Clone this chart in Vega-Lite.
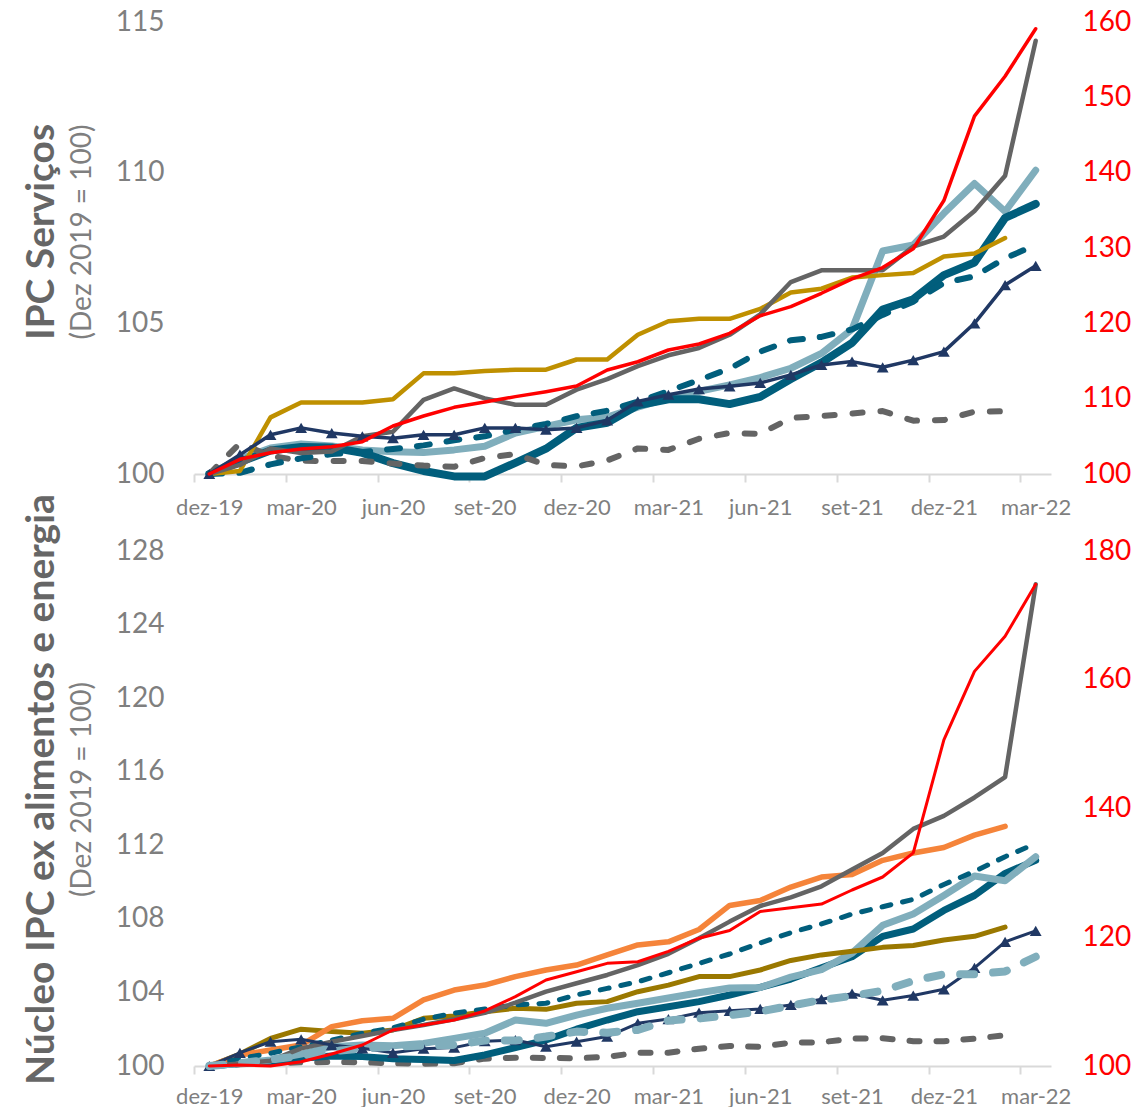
{
"$schema":"https://vega.github.io/schema/vega-lite/v6.json",
"padding":{"left":23,"top":8,"right":0,"bottom":0},
"config":{"view":{"stroke":null},"font":"Lato","line":{"strokeCap":"round","strokeJoin":"round"},"title":{"font":"Lato","subtitleFont":"Lato"}},
"bounds":"flush",
"spacing":77,
"datasets":{
"top":[
{"s":"gold","m":"dez-19","v":100},{"s":"gold","m":"jan-20","v":100.1},{"s":"gold","m":"fev-20","v":101.88},{"s":"gold","m":"mar-20","v":102.37},{"s":"gold","m":"abr-20","v":102.37},{"s":"gold","m":"mai-20","v":102.37},{"s":"gold","m":"jun-20","v":102.48},{"s":"gold","m":"jul-20","v":103.34},{"s":"gold","m":"ago-20","v":103.34},{"s":"gold","m":"set-20","v":103.42},{"s":"gold","m":"out-20","v":103.46},{"s":"gold","m":"nov-20","v":103.46},{"s":"gold","m":"dez-20","v":103.8},{"s":"gold","m":"jan-21","v":103.8},{"s":"gold","m":"fev-21","v":104.62},{"s":"gold","m":"mar-21","v":105.07},{"s":"gold","m":"abr-21","v":105.15},{"s":"gold","m":"mai-21","v":105.15},{"s":"gold","m":"jun-21","v":105.48},{"s":"gold","m":"jul-21","v":106.02},{"s":"gold","m":"ago-21","v":106.15},{"s":"gold","m":"set-21","v":106.52},{"s":"gold","m":"out-21","v":106.6},{"s":"gold","m":"nov-21","v":106.67},{"s":"gold","m":"dez-21","v":107.22},{"s":"gold","m":"jan-22","v":107.32},{"s":"gold","m":"fev-22","v":107.83},
{"s":"gray","m":"dez-19","v":100},{"s":"gray","m":"jan-20","v":100.3},{"s":"gray","m":"fev-20","v":100.85},{"s":"gray","m":"mar-20","v":100.7},{"s":"gray","m":"abr-20","v":100.75},{"s":"gray","m":"mai-20","v":101.25},{"s":"gray","m":"jun-20","v":101.4},{"s":"gray","m":"jul-20","v":102.46},{"s":"gray","m":"ago-20","v":102.84},{"s":"gray","m":"set-20","v":102.51},{"s":"gray","m":"out-20","v":102.3},{"s":"gray","m":"nov-20","v":102.3},{"s":"gray","m":"dez-20","v":102.8},{"s":"gray","m":"jan-21","v":103.15},{"s":"gray","m":"fev-21","v":103.58},{"s":"gray","m":"mar-21","v":103.94},{"s":"gray","m":"abr-21","v":104.18},{"s":"gray","m":"mai-21","v":104.62},{"s":"gray","m":"jun-21","v":105.3},{"s":"gray","m":"jul-21","v":106.37},{"s":"gray","m":"ago-21","v":106.76},{"s":"gray","m":"set-21","v":106.76},{"s":"gray","m":"out-21","v":106.76},{"s":"gray","m":"nov-21","v":107.55},{"s":"gray","m":"dez-21","v":107.88},{"s":"gray","m":"jan-22","v":108.73},{"s":"gray","m":"fev-22","v":109.9},{"s":"gray","m":"mar-22","v":114.38},
{"s":"lblue","m":"dez-19","v":100},{"s":"lblue","m":"jan-20","v":100.5},{"s":"lblue","m":"fev-20","v":100.86},{"s":"lblue","m":"mar-20","v":101.0},{"s":"lblue","m":"abr-20","v":100.93},{"s":"lblue","m":"mai-20","v":100.8},{"s":"lblue","m":"jun-20","v":100.74},{"s":"lblue","m":"jul-20","v":100.71},{"s":"lblue","m":"ago-20","v":100.8},{"s":"lblue","m":"set-20","v":100.92},{"s":"lblue","m":"out-20","v":101.36},{"s":"lblue","m":"nov-20","v":101.58},{"s":"lblue","m":"dez-20","v":101.8},{"s":"lblue","m":"jan-21","v":101.89},{"s":"lblue","m":"fev-21","v":102.22},{"s":"lblue","m":"mar-21","v":102.52},{"s":"lblue","m":"abr-21","v":102.74},{"s":"lblue","m":"mai-21","v":102.96},{"s":"lblue","m":"jun-21","v":103.2},{"s":"lblue","m":"jul-21","v":103.51},{"s":"lblue","m":"ago-21","v":104.0},{"s":"lblue","m":"set-21","v":104.8},{"s":"lblue","m":"out-21","v":107.4},{"s":"lblue","m":"nov-21","v":107.6},{"s":"lblue","m":"dez-21","v":108.65},{"s":"lblue","m":"jan-22","v":109.64},{"s":"lblue","m":"fev-22","v":108.71},{"s":"lblue","m":"mar-22","v":110.08},
{"s":"teal","m":"dez-19","v":100},{"s":"teal","m":"jan-20","v":100.4},{"s":"teal","m":"fev-20","v":100.78},{"s":"teal","m":"mar-20","v":100.9},{"s":"teal","m":"abr-20","v":100.88},{"s":"teal","m":"mai-20","v":100.7},{"s":"teal","m":"jun-20","v":100.36},{"s":"teal","m":"jul-20","v":100.1},{"s":"teal","m":"ago-20","v":99.92},{"s":"teal","m":"set-20","v":99.92},{"s":"teal","m":"out-20","v":100.37},{"s":"teal","m":"nov-20","v":100.84},{"s":"teal","m":"dez-20","v":101.53},{"s":"teal","m":"jan-21","v":101.7},{"s":"teal","m":"fev-21","v":102.28},{"s":"teal","m":"mar-21","v":102.48},{"s":"teal","m":"abr-21","v":102.48},{"s":"teal","m":"mai-21","v":102.32},{"s":"teal","m":"jun-21","v":102.56},{"s":"teal","m":"jul-21","v":103.15},{"s":"teal","m":"ago-21","v":103.7},{"s":"teal","m":"set-21","v":104.35},{"s":"teal","m":"out-21","v":105.46},{"s":"teal","m":"nov-21","v":105.8},{"s":"teal","m":"dez-21","v":106.6},{"s":"teal","m":"jan-22","v":107.02},{"s":"teal","m":"fev-22","v":108.5},{"s":"teal","m":"mar-22","v":108.96},
{"s":"tealdash","m":"dez-19","v":100},{"s":"tealdash","m":"jan-20","v":100.04},{"s":"tealdash","m":"fev-20","v":100.32},{"s":"tealdash","m":"mar-20","v":100.52},{"s":"tealdash","m":"abr-20","v":100.66},{"s":"tealdash","m":"mai-20","v":100.73},{"s":"tealdash","m":"jun-20","v":100.83},{"s":"tealdash","m":"jul-20","v":100.95},{"s":"tealdash","m":"ago-20","v":101.12},{"s":"tealdash","m":"set-20","v":101.25},{"s":"tealdash","m":"out-20","v":101.47},{"s":"tealdash","m":"nov-20","v":101.66},{"s":"tealdash","m":"dez-20","v":101.92},{"s":"tealdash","m":"jan-21","v":102.1},{"s":"tealdash","m":"fev-21","v":102.4},{"s":"tealdash","m":"mar-21","v":102.75},{"s":"tealdash","m":"abr-21","v":103.12},{"s":"tealdash","m":"mai-21","v":103.5},{"s":"tealdash","m":"jun-21","v":104.06},{"s":"tealdash","m":"jul-21","v":104.44},{"s":"tealdash","m":"ago-21","v":104.55},{"s":"tealdash","m":"set-21","v":104.8},{"s":"tealdash","m":"out-21","v":105.28},{"s":"tealdash","m":"nov-21","v":105.72},{"s":"tealdash","m":"dez-21","v":106.34},{"s":"tealdash","m":"jan-22","v":106.56},{"s":"tealdash","m":"fev-22","v":107.16},{"s":"tealdash","m":"mar-22","v":107.6},
{"s":"navy","m":"dez-19","v":100},{"s":"navy","m":"jan-20","v":100.64},{"s":"navy","m":"fev-20","v":101.3},{"s":"navy","m":"mar-20","v":101.53},{"s":"navy","m":"abr-20","v":101.36},{"s":"navy","m":"mai-20","v":101.25},{"s":"navy","m":"jun-20","v":101.19},{"s":"navy","m":"jul-20","v":101.3},{"s":"navy","m":"ago-20","v":101.3},{"s":"navy","m":"set-20","v":101.53},{"s":"navy","m":"out-20","v":101.53},{"s":"navy","m":"nov-20","v":101.47},{"s":"navy","m":"dez-20","v":101.53},{"s":"navy","m":"jan-21","v":101.78},{"s":"navy","m":"fev-21","v":102.41},{"s":"navy","m":"mar-21","v":102.63},{"s":"navy","m":"abr-21","v":102.82},{"s":"navy","m":"mai-21","v":102.91},{"s":"navy","m":"jun-21","v":103.02},{"s":"navy","m":"jul-21","v":103.29},{"s":"navy","m":"ago-21","v":103.62},{"s":"navy","m":"set-21","v":103.73},{"s":"navy","m":"out-21","v":103.54},{"s":"navy","m":"nov-21","v":103.78},{"s":"navy","m":"dez-21","v":104.06},{"s":"navy","m":"jan-22","v":105.0},{"s":"navy","m":"fev-22","v":106.27},{"s":"navy","m":"mar-22","v":106.91},
{"s":"graydash","m":"dez-19","v":100},{"s":"graydash","m":"jan-20","v":101.02},{"s":"graydash","m":"fev-20","v":100.6},{"s":"graydash","m":"mar-20","v":100.44},{"s":"graydash","m":"abr-20","v":100.43},{"s":"graydash","m":"mai-20","v":100.43},{"s":"graydash","m":"jun-20","v":100.35},{"s":"graydash","m":"jul-20","v":100.28},{"s":"graydash","m":"ago-20","v":100.24},{"s":"graydash","m":"set-20","v":100.53},{"s":"graydash","m":"out-20","v":100.66},{"s":"graydash","m":"nov-20","v":100.3},{"s":"graydash","m":"dez-20","v":100.25},{"s":"graydash","m":"jan-21","v":100.45},{"s":"graydash","m":"fev-21","v":100.85},{"s":"graydash","m":"mar-21","v":100.8},{"s":"graydash","m":"abr-21","v":101.17},{"s":"graydash","m":"mai-21","v":101.36},{"s":"graydash","m":"jun-21","v":101.33},{"s":"graydash","m":"jul-21","v":101.86},{"s":"graydash","m":"ago-21","v":101.92},{"s":"graydash","m":"set-21","v":102.01},{"s":"graydash","m":"out-21","v":102.09},{"s":"graydash","m":"nov-21","v":101.77},{"s":"graydash","m":"dez-21","v":101.79},{"s":"graydash","m":"jan-22","v":102.07},{"s":"graydash","m":"fev-22","v":102.08},
{"s":"red","m":"dez-19","v":100},{"s":"red","m":"jan-20","v":101.95},{"s":"red","m":"fev-20","v":102.83},{"s":"red","m":"mar-20","v":103.32},{"s":"red","m":"abr-20","v":103.62},{"s":"red","m":"mai-20","v":104.29},{"s":"red","m":"jun-20","v":106.37},{"s":"red","m":"jul-20","v":107.7},{"s":"red","m":"ago-20","v":108.85},{"s":"red","m":"set-20","v":109.55},{"s":"red","m":"out-20","v":110.27},{"s":"red","m":"nov-20","v":110.93},{"s":"red","m":"dez-20","v":111.68},{"s":"red","m":"jan-21","v":113.8},{"s":"red","m":"fev-21","v":114.9},{"s":"red","m":"mar-21","v":116.46},{"s":"red","m":"abr-21","v":117.26},{"s":"red","m":"mai-21","v":118.68},{"s":"red","m":"jun-21","v":121.0},{"s":"red","m":"jul-21","v":122.21},{"s":"red","m":"ago-21","v":123.99},{"s":"red","m":"set-21","v":125.9},{"s":"red","m":"out-21","v":127.4},{"s":"red","m":"nov-21","v":129.9},{"s":"red","m":"dez-21","v":136.3},{"s":"red","m":"jan-22","v":147.5},{"s":"red","m":"fev-22","v":152.8},{"s":"red","m":"mar-22","v":159.1}
],
"bottom":[
{"s":"orange","m":"dez-19","v":100},{"s":"orange","m":"jan-20","v":100.6},{"s":"orange","m":"fev-20","v":100.87},{"s":"orange","m":"mar-20","v":101.14},{"s":"orange","m":"abr-20","v":102.14},{"s":"orange","m":"mai-20","v":102.46},{"s":"orange","m":"jun-20","v":102.59},{"s":"orange","m":"jul-20","v":103.59},{"s":"orange","m":"ago-20","v":104.13},{"s":"orange","m":"set-20","v":104.4},{"s":"orange","m":"out-20","v":104.86},{"s":"orange","m":"nov-20","v":105.22},{"s":"orange","m":"dez-20","v":105.49},{"s":"orange","m":"jan-21","v":106.04},{"s":"orange","m":"fev-21","v":106.58},{"s":"orange","m":"mar-21","v":106.75},{"s":"orange","m":"abr-21","v":107.42},{"s":"orange","m":"mai-21","v":108.73},{"s":"orange","m":"jun-21","v":109.0},{"s":"orange","m":"jul-21","v":109.73},{"s":"orange","m":"ago-21","v":110.27},{"s":"orange","m":"set-21","v":110.41},{"s":"orange","m":"out-21","v":111.18},{"s":"orange","m":"nov-21","v":111.58},{"s":"orange","m":"dez-21","v":111.88},{"s":"orange","m":"jan-22","v":112.55},{"s":"orange","m":"fev-22","v":113.03},
{"s":"olive","m":"dez-19","v":100},{"s":"olive","m":"jan-20","v":100.65},{"s":"olive","m":"fev-20","v":101.5},{"s":"olive","m":"mar-20","v":102.0},{"s":"olive","m":"abr-20","v":101.87},{"s":"olive","m":"mai-20","v":101.78},{"s":"olive","m":"jun-20","v":101.96},{"s":"olive","m":"jul-20","v":102.59},{"s":"olive","m":"ago-20","v":102.72},{"s":"olive","m":"set-20","v":102.95},{"s":"olive","m":"out-20","v":103.14},{"s":"olive","m":"nov-20","v":103.08},{"s":"olive","m":"dez-20","v":103.41},{"s":"olive","m":"jan-21","v":103.5},{"s":"olive","m":"fev-21","v":104.04},{"s":"olive","m":"mar-21","v":104.4},{"s":"olive","m":"abr-21","v":104.86},{"s":"olive","m":"mai-21","v":104.86},{"s":"olive","m":"jun-21","v":105.22},{"s":"olive","m":"jul-21","v":105.74},{"s":"olive","m":"ago-21","v":106.04},{"s":"olive","m":"set-21","v":106.24},{"s":"olive","m":"out-21","v":106.45},{"s":"olive","m":"nov-21","v":106.55},{"s":"olive","m":"dez-21","v":106.85},{"s":"olive","m":"jan-22","v":107.05},{"s":"olive","m":"fev-22","v":107.55},
{"s":"tealdash","m":"dez-19","v":100},{"s":"tealdash","m":"jan-20","v":100.42},{"s":"tealdash","m":"fev-20","v":100.69},{"s":"tealdash","m":"mar-20","v":101.05},{"s":"tealdash","m":"abr-20","v":101.41},{"s":"tealdash","m":"mai-20","v":101.78},{"s":"tealdash","m":"jun-20","v":102.08},{"s":"tealdash","m":"jul-20","v":102.54},{"s":"tealdash","m":"ago-20","v":102.87},{"s":"tealdash","m":"set-20","v":103.1},{"s":"tealdash","m":"out-20","v":103.32},{"s":"tealdash","m":"nov-20","v":103.41},{"s":"tealdash","m":"dez-20","v":103.86},{"s":"tealdash","m":"jan-21","v":104.22},{"s":"tealdash","m":"fev-21","v":104.58},{"s":"tealdash","m":"mar-21","v":105.07},{"s":"tealdash","m":"abr-21","v":105.58},{"s":"tealdash","m":"mai-21","v":106.09},{"s":"tealdash","m":"jun-21","v":106.69},{"s":"tealdash","m":"jul-21","v":107.25},{"s":"tealdash","m":"ago-21","v":107.72},{"s":"tealdash","m":"set-21","v":108.26},{"s":"tealdash","m":"out-21","v":108.66},{"s":"tealdash","m":"nov-21","v":109.06},{"s":"tealdash","m":"dez-21","v":109.87},{"s":"tealdash","m":"jan-22","v":110.58},{"s":"tealdash","m":"fev-22","v":111.38},{"s":"tealdash","m":"mar-22","v":112.09},
{"s":"gray","m":"dez-19","v":100},{"s":"gray","m":"jan-20","v":100.14},{"s":"gray","m":"fev-20","v":100.29},{"s":"gray","m":"mar-20","v":100.96},{"s":"gray","m":"abr-20","v":101.32},{"s":"gray","m":"mai-20","v":101.63},{"s":"gray","m":"jun-20","v":101.96},{"s":"gray","m":"jul-20","v":102.23},{"s":"gray","m":"ago-20","v":102.54},{"s":"gray","m":"set-20","v":102.89},{"s":"gray","m":"out-20","v":103.44},{"s":"gray","m":"nov-20","v":104.04},{"s":"gray","m":"dez-20","v":104.5},{"s":"gray","m":"jan-21","v":104.95},{"s":"gray","m":"fev-21","v":105.49},{"s":"gray","m":"mar-21","v":106.1},{"s":"gray","m":"abr-21","v":106.95},{"s":"gray","m":"mai-21","v":107.85},{"s":"gray","m":"jun-21","v":108.7},{"s":"gray","m":"jul-21","v":109.17},{"s":"gray","m":"ago-21","v":109.77},{"s":"gray","m":"set-21","v":110.68},{"s":"gray","m":"out-21","v":111.58},{"s":"gray","m":"nov-21","v":112.89},{"s":"gray","m":"dez-21","v":113.6},{"s":"gray","m":"jan-22","v":114.6},{"s":"gray","m":"fev-22","v":115.71},{"s":"gray","m":"mar-22","v":126.19},
{"s":"lblue","m":"dez-19","v":100},{"s":"lblue","m":"jan-20","v":100.14},{"s":"lblue","m":"fev-20","v":100.33},{"s":"lblue","m":"mar-20","v":100.65},{"s":"lblue","m":"abr-20","v":101.05},{"s":"lblue","m":"mai-20","v":101.14},{"s":"lblue","m":"jun-20","v":101.1},{"s":"lblue","m":"jul-20","v":101.23},{"s":"lblue","m":"ago-20","v":101.5},{"s":"lblue","m":"set-20","v":101.78},{"s":"lblue","m":"out-20","v":102.5},{"s":"lblue","m":"nov-20","v":102.32},{"s":"lblue","m":"dez-20","v":102.77},{"s":"lblue","m":"jan-21","v":103.14},{"s":"lblue","m":"fev-21","v":103.41},{"s":"lblue","m":"mar-21","v":103.7},{"s":"lblue","m":"abr-21","v":103.98},{"s":"lblue","m":"mai-21","v":104.24},{"s":"lblue","m":"jun-21","v":104.27},{"s":"lblue","m":"jul-21","v":104.83},{"s":"lblue","m":"ago-21","v":105.24},{"s":"lblue","m":"set-21","v":106.14},{"s":"lblue","m":"out-21","v":107.65},{"s":"lblue","m":"nov-21","v":108.26},{"s":"lblue","m":"dez-21","v":109.27},{"s":"lblue","m":"jan-22","v":110.33},{"s":"lblue","m":"fev-22","v":110.07},{"s":"lblue","m":"mar-22","v":111.38},
{"s":"teal","m":"dez-19","v":100},{"s":"teal","m":"jan-20","v":100.14},{"s":"teal","m":"fev-20","v":100.24},{"s":"teal","m":"mar-20","v":100.42},{"s":"teal","m":"abr-20","v":100.54},{"s":"teal","m":"mai-20","v":100.51},{"s":"teal","m":"jun-20","v":100.4},{"s":"teal","m":"jul-20","v":100.36},{"s":"teal","m":"ago-20","v":100.3},{"s":"teal","m":"set-20","v":100.6},{"s":"teal","m":"out-20","v":101.0},{"s":"teal","m":"nov-20","v":101.41},{"s":"teal","m":"dez-20","v":102.0},{"s":"teal","m":"jan-21","v":102.5},{"s":"teal","m":"fev-21","v":102.95},{"s":"teal","m":"mar-21","v":103.22},{"s":"teal","m":"abr-21","v":103.5},{"s":"teal","m":"mai-21","v":103.86},{"s":"teal","m":"jun-21","v":104.27},{"s":"teal","m":"jul-21","v":104.73},{"s":"teal","m":"ago-21","v":105.34},{"s":"teal","m":"set-21","v":105.94},{"s":"teal","m":"out-21","v":107.05},{"s":"teal","m":"nov-21","v":107.45},{"s":"teal","m":"dez-21","v":108.46},{"s":"teal","m":"jan-22","v":109.27},{"s":"teal","m":"fev-22","v":110.47},{"s":"teal","m":"mar-22","v":111.18},
{"s":"navy","m":"dez-19","v":100},{"s":"navy","m":"jan-20","v":100.72},{"s":"navy","m":"fev-20","v":101.32},{"s":"navy","m":"mar-20","v":101.45},{"s":"navy","m":"abr-20","v":101.14},{"s":"navy","m":"mai-20","v":100.96},{"s":"navy","m":"jun-20","v":100.72},{"s":"navy","m":"jul-20","v":100.94},{"s":"navy","m":"ago-20","v":101.0},{"s":"navy","m":"set-20","v":101.35},{"s":"navy","m":"out-20","v":101.41},{"s":"navy","m":"nov-20","v":101.05},{"s":"navy","m":"dez-20","v":101.32},{"s":"navy","m":"jan-21","v":101.6},{"s":"navy","m":"fev-21","v":102.32},{"s":"navy","m":"mar-21","v":102.55},{"s":"navy","m":"abr-21","v":102.9},{"s":"navy","m":"mai-21","v":103.0},{"s":"navy","m":"jun-21","v":103.1},{"s":"navy","m":"jul-21","v":103.32},{"s":"navy","m":"ago-21","v":103.63},{"s":"navy","m":"set-21","v":103.93},{"s":"navy","m":"out-21","v":103.57},{"s":"navy","m":"nov-21","v":103.83},{"s":"navy","m":"dez-21","v":104.17},{"s":"navy","m":"jan-22","v":105.34},{"s":"navy","m":"fev-22","v":106.75},{"s":"navy","m":"mar-22","v":107.35},
{"s":"lbluedash","m":"dez-19","v":100},{"s":"lbluedash","m":"jan-20","v":100.15},{"s":"lbluedash","m":"fev-20","v":100.35},{"s":"lbluedash","m":"mar-20","v":100.55},{"s":"lbluedash","m":"abr-20","v":100.8},{"s":"lbluedash","m":"mai-20","v":100.95},{"s":"lbluedash","m":"jun-20","v":101.05},{"s":"lbluedash","m":"jul-20","v":101.1},{"s":"lbluedash","m":"ago-20","v":101.15},{"s":"lbluedash","m":"set-20","v":101.38},{"s":"lbluedash","m":"out-20","v":101.38},{"s":"lbluedash","m":"nov-20","v":101.6},{"s":"lbluedash","m":"dez-20","v":101.87},{"s":"lbluedash","m":"jan-21","v":101.81},{"s":"lbluedash","m":"fev-21","v":101.96},{"s":"lbluedash","m":"mar-21","v":102.48},{"s":"lbluedash","m":"abr-21","v":102.58},{"s":"lbluedash","m":"mai-21","v":102.76},{"s":"lbluedash","m":"jun-21","v":102.96},{"s":"lbluedash","m":"jul-21","v":103.28},{"s":"lbluedash","m":"ago-21","v":103.59},{"s":"lbluedash","m":"set-21","v":103.81},{"s":"lbluedash","m":"out-21","v":104.09},{"s":"lbluedash","m":"nov-21","v":104.63},{"s":"lbluedash","m":"dez-21","v":104.99},{"s":"lbluedash","m":"jan-22","v":104.99},{"s":"lbluedash","m":"fev-22","v":105.14},{"s":"lbluedash","m":"mar-22","v":105.94},
{"s":"graydash","m":"dez-19","v":100},{"s":"graydash","m":"jan-20","v":100.1},{"s":"graydash","m":"fev-20","v":100.15},{"s":"graydash","m":"mar-20","v":100.2},{"s":"graydash","m":"abr-20","v":100.22},{"s":"graydash","m":"mai-20","v":100.2},{"s":"graydash","m":"jun-20","v":100.15},{"s":"graydash","m":"jul-20","v":100.12},{"s":"graydash","m":"ago-20","v":100.15},{"s":"graydash","m":"set-20","v":100.4},{"s":"graydash","m":"out-20","v":100.45},{"s":"graydash","m":"nov-20","v":100.44},{"s":"graydash","m":"dez-20","v":100.42},{"s":"graydash","m":"jan-21","v":100.5},{"s":"graydash","m":"fev-21","v":100.72},{"s":"graydash","m":"mar-21","v":100.72},{"s":"graydash","m":"abr-21","v":100.94},{"s":"graydash","m":"mai-21","v":101.09},{"s":"graydash","m":"jun-21","v":101.05},{"s":"graydash","m":"jul-21","v":101.27},{"s":"graydash","m":"ago-21","v":101.29},{"s":"graydash","m":"set-21","v":101.49},{"s":"graydash","m":"out-21","v":101.51},{"s":"graydash","m":"nov-21","v":101.35},{"s":"graydash","m":"dez-21","v":101.35},{"s":"graydash","m":"jan-22","v":101.49},{"s":"graydash","m":"fev-22","v":101.67},
{"s":"red","m":"dez-19","v":100},{"s":"red","m":"jan-20","v":100.16},{"s":"red","m":"fev-20","v":100.0},{"s":"red","m":"mar-20","v":100.67},{"s":"red","m":"abr-20","v":101.86},{"s":"red","m":"mai-20","v":103.26},{"s":"red","m":"jun-20","v":105.59},{"s":"red","m":"jul-20","v":106.37},{"s":"red","m":"ago-20","v":107.15},{"s":"red","m":"set-20","v":108.55},{"s":"red","m":"out-20","v":110.77},{"s":"red","m":"nov-20","v":113.36},{"s":"red","m":"dez-20","v":114.65},{"s":"red","m":"jan-21","v":115.95},{"s":"red","m":"fev-21","v":116.2},{"s":"red","m":"mar-21","v":117.8},{"s":"red","m":"abr-21","v":119.85},{"s":"red","m":"mai-21","v":121.05},{"s":"red","m":"jun-21","v":124.0},{"s":"red","m":"jul-21","v":124.58},{"s":"red","m":"ago-21","v":125.15},{"s":"red","m":"set-21","v":127.34},{"s":"red","m":"out-21","v":129.36},{"s":"red","m":"nov-21","v":133.1},{"s":"red","m":"dez-21","v":150.65},{"s":"red","m":"jan-22","v":161.3},{"s":"red","m":"fev-22","v":166.76},{"s":"red","m":"mar-22","v":174.82}
]
},
"vconcat":[
{
"data":{"name":"top"},
"width":857,"height":452,
"title":{"text":"IPC Serviços","subtitle":"(Dez 2019 = 100)","orient":"left","anchor":"middle","frame":"group","fontSize":39,"fontWeight":"bold","color":"#666666","subtitleFontSize":28,"subtitleColor":"#7F7F7F","offset":18,"subtitlePadding":7,"dx":16},
"encoding":{"x":{"field":"m","type":"ordinal","scale":{"type":"point","padding":0.5,"domain":["dez-19","jan-20","fev-20","mar-20","abr-20","mai-20","jun-20","jul-20","ago-20","set-20","out-20","nov-20","dez-20","jan-21","fev-21","mar-21","abr-21","mai-21","jun-21","jul-21","ago-21","set-21","out-21","nov-21","dez-21","jan-22","fev-22","mar-22"]},"axis":{"values":["dez-19","mar-20","jun-20","set-20","dez-20","mar-21","jun-21","set-21","dez-21","mar-22"],"title":null,"labelAngle":0,"tickOffset":-15.3,"labelOffset":15.3,"domainColor":"#D9D9D9","domainWidth":2,"tickColor":"#D9D9D9","tickWidth":2,"tickSize":8,"labelColor":"#7F7F7F","labelFontSize":22,"labelPadding":15,"grid":false,"labelOverlap":false}}},
"layer":[
{"encoding":{"y":{"field":"v","type":"quantitative","scale":{"domain":[100,115],"nice":false,"zero":false},"axis":{"orient":"left","values":[100,105,110,115],"title":null,"domain":false,"ticks":false,"tickSize":0,"grid":false,"labelColor":"#7F7F7F","labelFontSize":28,"labelPadding":30}}},
"layer":[
{"transform":[{"filter":"datum.s==='lblue'"}],"mark":{"type":"line","color":"#80AEBC","strokeWidth":7},"encoding":{}},
{"transform":[{"filter":"datum.s==='teal'"}],"mark":{"type":"line","color":"#015E7C","strokeWidth":8},"encoding":{}},
{"transform":[{"filter":"datum.s==='graydash'"}],"mark":{"type":"line","color":"#646464","strokeWidth":6,"strokeDash":[10,18]},"encoding":{}},
{"transform":[{"filter":"datum.s==='tealdash'"}],"mark":{"type":"line","color":"#015E7C","strokeWidth":6,"strokeDash":[13,17]},"encoding":{}},
{"transform":[{"filter":"datum.s==='gold'"}],"mark":{"type":"line","color":"#BF9000","strokeWidth":4.5},"encoding":{}},
{"transform":[{"filter":"datum.s==='gray'"}],"mark":{"type":"line","color":"#646464","strokeWidth":4.5},"encoding":{}},
{"transform":[{"filter":"datum.s==='navy'"}],"mark":{"type":"line","color":"#203864","strokeWidth":3.5},"encoding":{}},
{"transform":[{"filter":"datum.s==='navy'"}],"mark":{"type":"point","shape":"triangle-up","filled":true,"color":"#203864","size":140,"opacity":1}}
]},
{"encoding":{"y":{"field":"v","type":"quantitative","scale":{"domain":[100,160],"nice":false,"zero":false},"axis":{"orient":"right","values":[100,110,120,130,140,150,160],"title":null,"domain":false,"ticks":false,"tickSize":0,"grid":false,"labelColor":"#FF0000","labelFontSize":28,"labelPadding":31}}},
"layer":[
{"transform":[{"filter":"datum.s==='red'"}],"mark":{"type":"line","color":"#FF0000","strokeWidth":3.5},"encoding":{}}
]}
],
"resolve":{"scale":{"y":"independent"}}
},
{
"data":{"name":"bottom"},
"width":857,"height":515,
"title":{"text":"Núcleo IPC ex alimentos e energia","subtitle":"(Dez 2019 = 100)","orient":"left","anchor":"middle","frame":"group","fontSize":39,"fontWeight":"bold","color":"#666666","subtitleFontSize":28,"subtitleColor":"#7F7F7F","offset":18,"subtitlePadding":7,"dx":19},
"encoding":{"x":{"field":"m","type":"ordinal","scale":{"type":"point","padding":0.5,"domain":["dez-19","jan-20","fev-20","mar-20","abr-20","mai-20","jun-20","jul-20","ago-20","set-20","out-20","nov-20","dez-20","jan-21","fev-21","mar-21","abr-21","mai-21","jun-21","jul-21","ago-21","set-21","out-21","nov-21","dez-21","jan-22","fev-22","mar-22"]},"axis":{"values":["dez-19","mar-20","jun-20","set-20","dez-20","mar-21","jun-21","set-21","dez-21","mar-22"],"title":null,"labelAngle":0,"tickOffset":-15.3,"labelOffset":15.3,"domainColor":"#D9D9D9","domainWidth":2,"tickColor":"#D9D9D9","tickWidth":2,"tickSize":8,"labelColor":"#7F7F7F","labelFontSize":22,"labelPadding":12,"grid":false,"labelOverlap":false}}},
"layer":[
{"encoding":{"y":{"field":"v","type":"quantitative","scale":{"domain":[100,128],"nice":false,"zero":false},"axis":{"orient":"left","values":[100,104,108,112,116,120,124,128],"title":null,"domain":false,"ticks":false,"tickSize":0,"grid":false,"labelColor":"#7F7F7F","labelFontSize":28,"labelPadding":30}}},
"layer":[
{"transform":[{"filter":"datum.s==='graydash'"}],"mark":{"type":"line","color":"#646464","strokeWidth":6,"strokeDash":[10,17]},"encoding":{}},
{"transform":[{"filter":"datum.s==='teal'"}],"mark":{"type":"line","color":"#015E7C","strokeWidth":7},"encoding":{}},
{"transform":[{"filter":"datum.s==='lblue'"}],"mark":{"type":"line","color":"#80AEBC","strokeWidth":7},"encoding":{}},
{"transform":[{"filter":"datum.s==='olive'"}],"mark":{"type":"line","color":"#9A7800","strokeWidth":5},"encoding":{}},
{"transform":[{"filter":"datum.s==='orange'"}],"mark":{"type":"line","color":"#F5843A","strokeWidth":5.5},"encoding":{}},
{"transform":[{"filter":"datum.s==='tealdash'"}],"mark":{"type":"line","color":"#015E7C","strokeWidth":5,"strokeDash":[9,12]},"encoding":{}},
{"transform":[{"filter":"datum.s==='gray'"}],"mark":{"type":"line","color":"#646464","strokeWidth":4.5},"encoding":{}},
{"transform":[{"filter":"datum.s==='navy'"}],"mark":{"type":"line","color":"#203864","strokeWidth":3},"encoding":{}},
{"transform":[{"filter":"datum.s==='navy'"}],"mark":{"type":"point","shape":"triangle-up","filled":true,"color":"#203864","size":140,"opacity":1}},
{"transform":[{"filter":"datum.s==='lbluedash'"}],"mark":{"type":"line","color":"#80AEBC","strokeWidth":8,"strokeDash":[14,19]},"encoding":{}}
]},
{"encoding":{"y":{"field":"v","type":"quantitative","scale":{"domain":[100,180],"nice":false,"zero":false},"axis":{"orient":"right","values":[100,120,140,160,180],"title":null,"domain":false,"ticks":false,"tickSize":0,"grid":false,"labelColor":"#FF0000","labelFontSize":28,"labelPadding":31}}},
"layer":[
{"transform":[{"filter":"datum.s==='red'"}],"mark":{"type":"line","color":"#FF0000","strokeWidth":3},"encoding":{}}
]}
],
"resolve":{"scale":{"y":"independent"}}
}
]
}
